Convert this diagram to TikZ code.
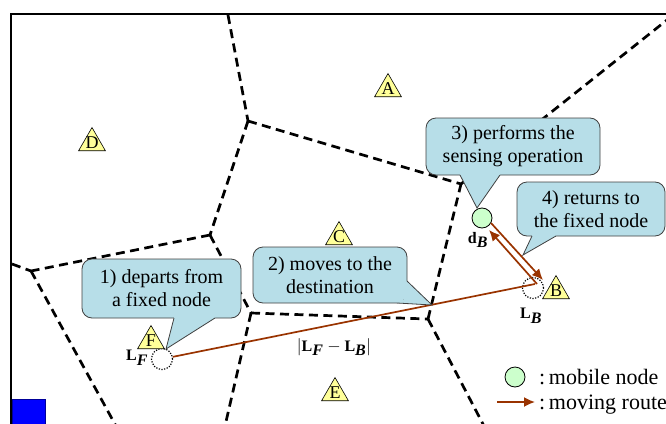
\documentclass[tikz,border=0pt]{standalone}
\usepackage{fontspec}
\setmainfont{Liberation Serif}
\usetikzlibrary{calc,shapes,arrows.meta}

\definecolor{callblue}{RGB}{183,222,232}
\definecolor{siteyellow}{RGB}{255,255,153}
\definecolor{mobgreen}{RGB}{204,255,204}
\definecolor{routebrown}{RGB}{153,51,0}

\tikzset{
  cell/.style={dash pattern=on 9pt off 5.5pt, line width=2.7pt},
  site/.style={regular polygon, regular polygon sides=3, draw, fill=siteyellow,
    minimum size=31pt, inner sep=0pt, line width=0.6pt,
    label={[font=\fontsize{18}{18}\selectfont, inner sep=0pt]center:#1}},
  bubble/.style={draw=black!75, fill=callblue, rounded corners=10pt, align=center,
    line width=0.8pt, inner sep=0pt, font=\fontsize{20}{23}\selectfont},
  bubbleline/.style={draw=black!75, line width=0.8pt, line join=miter},
  spot/.style={circle, draw, dash pattern=on 1.2pt off 1.5pt, line width=1.2pt,
    minimum size=21pt, inner sep=0pt},
  mobile/.style={circle, draw, fill=mobgreen, minimum size=20pt, inner sep=0pt, line width=0.8pt},
  route/.style={routebrown, line width=1.7pt},
  tip/.style={-{Latex[length=11pt, width=10pt]}},
  lbl/.style={inner sep=0pt, font=\fontsize{16}{16}\selectfont},
  keytext/.style={anchor=base west, inner sep=0pt, font=\fontsize{22}{22}\selectfont}
}

\newcommand\pointer[3]{%
  \fill[callblue] ($#1+(0,-2.5)$) -- #1 -- #2 -- #3 -- ($#3+(0,-2.5)$) -- cycle;
  \draw[bubbleline] #1 -- #2 -- #3;}

\begin{document}
\begin{tikzpicture}[x=1pt, y=-1pt]
\useasboundingbox (0,0) rectangle (666,423);

\draw[line width=2pt] (11,426) -- (11,14) -- (670,14);
\filldraw[fill=blue, draw=blue!60!black, line width=0.6pt] (12,399) rectangle (45,426);

\coordinate (v1) at (248,121);
\coordinate (v2) at (461,184);
\coordinate (v3) at (210,235);
\coordinate (v4) at (31,271);
\coordinate (v5) at (251,313);
\coordinate (v6) at (428,319);
\coordinate (t1) at (228,15);
\coordinate (t2) at (672,16);
\coordinate (l1) at (12,264);
\coordinate (b1) at (116,426);
\coordinate (b2) at (225,426);
\coordinate (b3) at (484,426);

\draw[cell] (t1) -- (v1);
\draw[cell] (v1) -- (v2);
\draw[cell] (v1) -- (v3);
\draw[cell] (v3) -- (v4);
\draw[cell] (l1) -- (v4);
\draw[cell] (v4) -- (b1);
\draw[cell] (v3) -- (v5);
\draw[cell] (v5) -- (v6);
\draw[cell] (v5) -- (b2);
\draw[cell] (v6) -- (v2);
\draw[cell] (v6) -- (b3);
\draw[cell] (v2) -- (t2);

\node[spot] (LF) at (162,359) {};
\node[spot] (LB) at (533,288) {};
\node[mobile] (dB) at (482,218) {};

\coordinate (Lend) at (535,284);
\draw[route] (LF) -- (Lend);

\coordinate (goS) at (491,223);
\coordinate (goE) at (543,280);
\coordinate (backS) at (537,284);
\coordinate (backE) at (489,230);
\draw[route, tip] (goS) -- (goE);
\draw[route, tip] (backS) -- (backE);

\node[bubble, minimum width=159pt, minimum height=59pt] (c1) at (161.5,288.5) {1) departs from\\a fixed node};
\pointer{(174,318)}{(166,349)}{(215,318)}
\node[bubble, minimum width=154pt, minimum height=56pt] (c2) at (330,275) {2) moves to the\\destination};
\fill[callblue] (404,281) -- (407,281) -- (432,305) -- (397,303) -- (397,300) -- (404,300) -- cycle;
\draw[bubbleline] (407,281) -- (432,305) -- (397,303);
\node[bubble, minimum width=174pt, minimum height=57pt] (c3) at (513,146.5) {3) performs the\\sensing operation};
\pointer{(460,175)}{(477,208)}{(500,175)}
\node[bubble, minimum width=148pt, minimum height=54pt] (c4) at (591,209) {4) returns to\\the fixed node};
\pointer{(532,236)}{(523,255)}{(556,236)}

\node[site=A] (A) at (388,89) {};
\node[site=D] (D) at (92,143) {};
\node[site=C] (C) at (339,237) {};
\node[site=F] (F) at (151,341) {};
\node[site=E] (E) at (335,393) {};
\node[site=B] (B) at (556,291) {};

\node[lbl] (LFtxt) at (137,358) {\textbf{L}$_{\textbf{\textit{F}}}$};
\node[lbl] (LBtxt) at (531,316) {\textbf{L}$_{\textbf{\textit{B}}}$};
\node[lbl] (dBtxt) at (478,240) {\textbf{d}$_{\textbf{\textit{B}}}$};
\node[lbl] (dist) at (334,347) {$\left|\textbf{L}_{\textbf{\textit{F}}}-\textbf{L}_{\textbf{\textit{B}}}\right|$};

\node[mobile] (key) at (515,377) {};
\node[keytext] (keymob) at (539,384) {:\,mobile node};
\coordinate (k1) at (497,402);
\coordinate (k2) at (535,402);
\draw[route, tip] (k1) -- (k2);
\node[keytext] (keyroute) at (539,409) {:\,moving route};
\end{tikzpicture}
\end{document}
